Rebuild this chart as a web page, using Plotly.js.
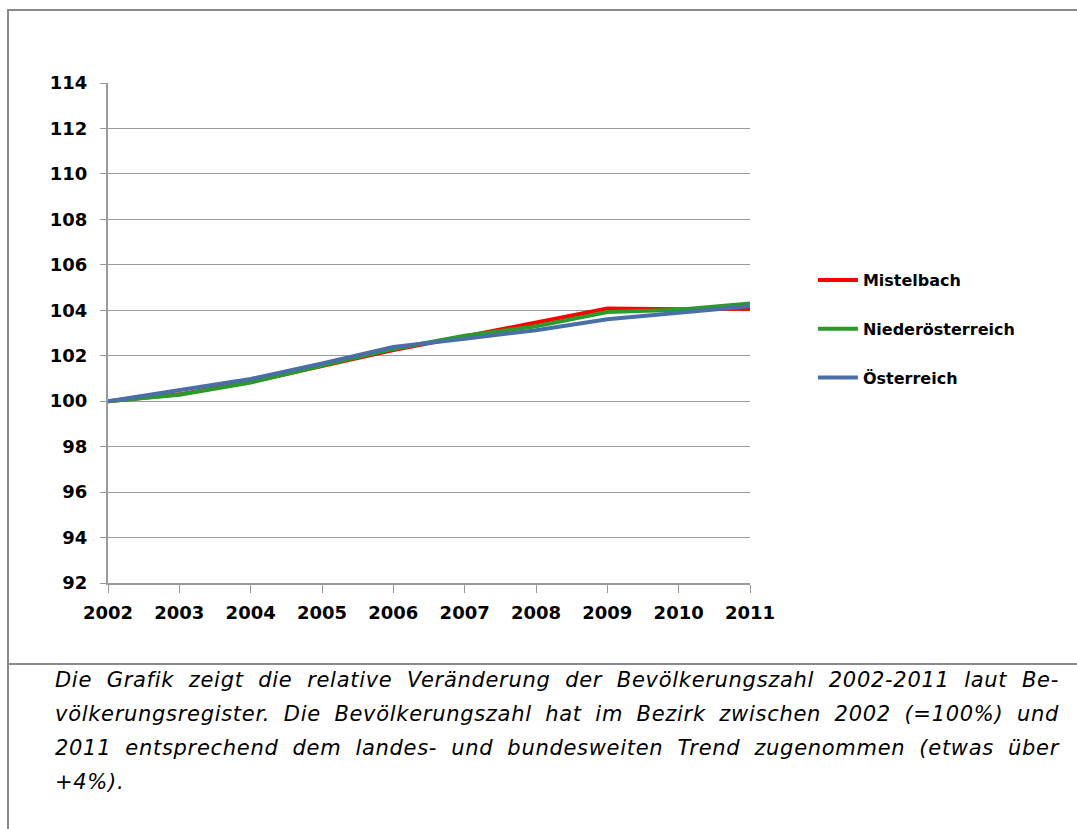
<!DOCTYPE html>
<html>
<head>
<meta charset="utf-8">
<script src="https://cdn.plot.ly/plotly-3.0.1.min.js"></script>
<style>
  html, body { margin: 0; padding: 0; background: #fff; width: 1077px; height: 829px; overflow: hidden; }
  #frame { position: absolute; left: 7px; top: 9px; width: 1080px; height: 830px;
           border-left: 2px solid #8a8a8a; border-top: 2px solid #8a8a8a; }
  #divider { position: absolute; left: 7px; top: 663px; width: 1080px; height: 0;
             border-top: 2px solid #8a8a8a; }
  #chart { position: absolute; left: 0; top: 0; width: 1077px; height: 663px; }
  #caption { position: absolute; left: 55px; top: 663px; width: 1004px; margin: 0;
             font-family: "DejaVu Sans", Verdana, sans-serif; font-style: italic;
             font-size: 21px; line-height: 34px; letter-spacing: 0.7px; color: #000; }
  #caption span { display: block; text-align: justify; text-align-last: justify; white-space: nowrap; }
  #caption span.last { text-align-last: left; }
</style>
</head>
<body>
<div id="frame"></div>
<div id="chart"></div>
<div id="divider"></div>
<div id="caption"></div>
<script>
const years = ["2002","2003","2004","2005","2006","2007","2008","2009","2010","2011"];
const mistelbach = [100.0, 100.3, 100.85, 101.55, 102.25, 102.85, 103.45, 104.08, 104.05, 104.07];
const niederoesterreich = [100.0, 100.28, 100.82, 101.56, 102.3, 102.88, 103.3, 103.92, 104.02, 104.3];
const oesterreich = [100.0, 100.48, 100.98, 101.66, 102.38, 102.75, 103.12, 103.6, 103.88, 104.18];
const seriesNames = ["Mistelbach", "Niederösterreich", "Österreich"];
const yTicks = [92, 94, 96, 98, 100, 102, 104, 106, 108, 110, 112, 114];
const captionLines = [
  "Die Grafik zeigt die relative Veränderung der Bevölkerungszahl 2002-2011 laut Be-",
  "völkerungsregister. Die Bevölkerungszahl hat im Bezirk zwischen 2002 (=100%) und",
  "2011 entsprechend dem landes- und bundesweiten Trend zugenommen (etwas über",
  "+4%)."
];

const colors = ["#ff0000", "#2a9a2a", "#4a6ea8"];
const values = [mistelbach, niederoesterreich, oesterreich];

const traces = values.map((v, i) => ({
  x: years, y: v, name: seriesNames[i], type: "scatter", mode: "lines",
  line: { color: colors[i], width: 4 }, legendgroup: "g" + i
}));

const tickFont = { family: "DejaVu Sans, Verdana, sans-serif", size: 18, color: "#000", weight: "bold" };

const layout = {
  width: 1077, height: 663,
  margin: { l: 108, r: 327, t: 83, b: 80, pad: 0 },
  paper_bgcolor: "rgba(0,0,0,0)", plot_bgcolor: "rgba(0,0,0,0)",
  showlegend: true,
  legend: {
    x: 1.098, xanchor: "left", y: 0.64, yanchor: "top",
    font: { family: "DejaVu Sans, Verdana, sans-serif", size: 16, color: "#000", weight: "bold" },
    traceorder: "grouped", tracegroupgap: 25, itemwidth: 40, bgcolor: "rgba(0,0,0,0)"
  },
  xaxis: {
    type: "category", range: [0, 9], showgrid: false,
    showline: true, linecolor: "#999", linewidth: 2,
    ticks: "outside", ticklen: 8, tickcolor: "#999", tickwidth: 1,
    ticklabelstandoff: 4,
    tickfont: tickFont, fixedrange: true, zeroline: false
  },
  yaxis: {
    range: [92, 114], tickvals: yTicks, ticktext: yTicks.map(String),
    showgrid: true, gridcolor: "#999", gridwidth: 1,
    showline: true, linecolor: "#999", linewidth: 2,
    ticks: "outside", ticklen: 6, tickcolor: "#999",
    ticklabelstandoff: 9,
    tickfont: tickFont, zeroline: false, fixedrange: true
  }
};

Plotly.newPlot("chart", traces, layout, { displayModeBar: false, staticPlot: true });
const cap = document.getElementById("caption");
captionLines.forEach((t, i) => {
  const s = document.createElement("span");
  s.textContent = t;
  if (i === captionLines.length - 1) s.className = "last";
  cap.appendChild(s);
});
</script>
</body>
</html>
